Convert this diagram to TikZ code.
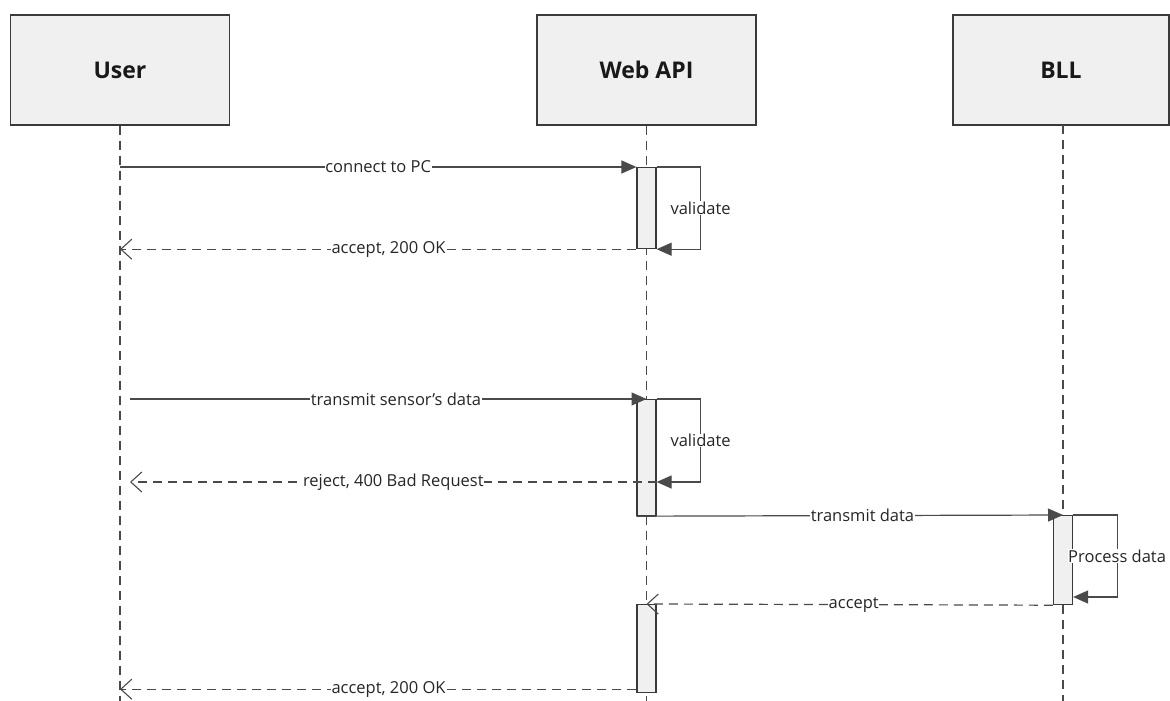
\documentclass[tikz,border=0pt]{standalone}
\usepackage{fontspec}
\setmainfont{Open Sans}
\usetikzlibrary{arrows.meta,calc}
\definecolor{boxfill}{HTML}{F0F0F0}
\definecolor{edge}{HTML}{3A3A3A}
\definecolor{ln}{HTML}{4A4A4A}
\begin{document}
\begin{tikzpicture}[x=1pt,y=-1pt,
  actor/.style={draw=edge,line width=1.3pt,fill=boxfill,minimum width=219pt,minimum height=110pt,inner sep=0pt,font=\fontsize{23}{26}\selectfont\bfseries,text=black!90},
  life/.style={draw=ln,line width=1.1pt,dash pattern=on 9pt off 6pt},
  actbox/.style={draw=edge,line width=1.2pt,fill=boxfill,minimum width=19pt,inner sep=0pt},
  msg/.style={draw=ln,line width=1.2pt,-{Triangle[length=15pt,width=13pt]}},
  reply/.style={draw=ln,line width=1.2pt,dash pattern=on 9pt off 6pt,-{Straight Barb[length=11pt,width=20pt,line width=1.1pt]}},
  self/.style={draw=ln,line width=1.2pt,-{Triangle[length=15pt,width=13pt]}},
  lbl/.style={fill=white,inner sep=0.5pt,font=\fontsize{16.5}{18}\selectfont,text=black!85}]
\useasboundingbox (0,0) rectangle (1170,701);
% actors
\node[actor] (user) at (120,70) {User};
\node[actor] (api) at (646.5,70) {Web API};
\node[actor,minimum width=216pt] (bll) at (1061,70) {BLL};
% lifeline ends
\coordinate (userend) at (120,701);
\coordinate (apiend) at (646.5,701);
\coordinate (bllend) at (1063,701);
\draw[life] (user.south) -- (userend);
\draw[life] (api.south) -- (apiend);
\draw[life] (1063,125) -- (bllend);
% activations
\node[actbox,minimum height=81pt,anchor=north] (a1) at (646.5,167) {};
\node[actbox,minimum height=116pt,anchor=north] (a2) at (646.5,399) {};
\node[actbox,minimum height=89pt,anchor=north] (b1) at (1063,515) {};
\node[actbox,minimum height=88pt,anchor=north] (a3) at (646.5,604) {};
% messages
\coordinate (u1) at (user.south |- a1.north west);
\draw[msg] (u1) -- node[lbl,pos=0.5] {connect to PC} (a1.north west);
\coordinate (s1) at ($(a1.north east)+(44,0)$);
\coordinate (s2) at ($(a1.south east)+(44,0)$);
\draw[self] (a1.north east) -- (s1) -- node[lbl] {validate} (s2) -- (a1.south east);
\coordinate (u2) at (user.south |- a1.south west);
\draw[reply] (a1.south west) -- node[lbl,pos=0.48] {accept, 200 OK} (u2);

\coordinate (u3) at ($(user.south |- a2.north)+(10,0)$);
\draw[msg] (u3) -- node[lbl,pos=0.515] {transmit sensor's data} (a2.north);
\coordinate (s3) at ($(a2.north east)+(44,0)$);
\coordinate (s4) at ($(a2.north east)+(44,83)$);
\coordinate (r2) at ($(a2.north east)+(0,83)$);
\draw[self] (a2.north east) -- (s3) -- node[lbl] {validate} (s4) -- (r2);
\coordinate (u4) at ($(user.south |- r2)+(10,0)$);
\draw[reply] (r2) -- node[lbl,pos=0.5] {reject, 400 Bad Request} (u4);

\draw[msg] (a2.south west) -- node[lbl,pos=0.53] {transmit data} (b1.north);
\coordinate (s5) at ($(b1.north east)+(44,0)$);
\coordinate (s6) at ($(b1.north east)+(44,82)$);
\coordinate (r3) at ($(b1.north east)+(0,82)$);
\draw[self] (b1.north east) -- (s5) -- node[lbl] {Process data} (s6) -- (r3);
\draw[reply] (b1.south west) -- node[lbl,pos=0.49] {accept} (a3.north);

\coordinate (a3r) at ($(a3.south west)+(0,-4)$);
\coordinate (u5) at (user.south |- a3r);
\draw[reply] (a3r) -- node[lbl,pos=0.48] {accept, 200 OK} (u5);
\end{tikzpicture}
\end{document}
